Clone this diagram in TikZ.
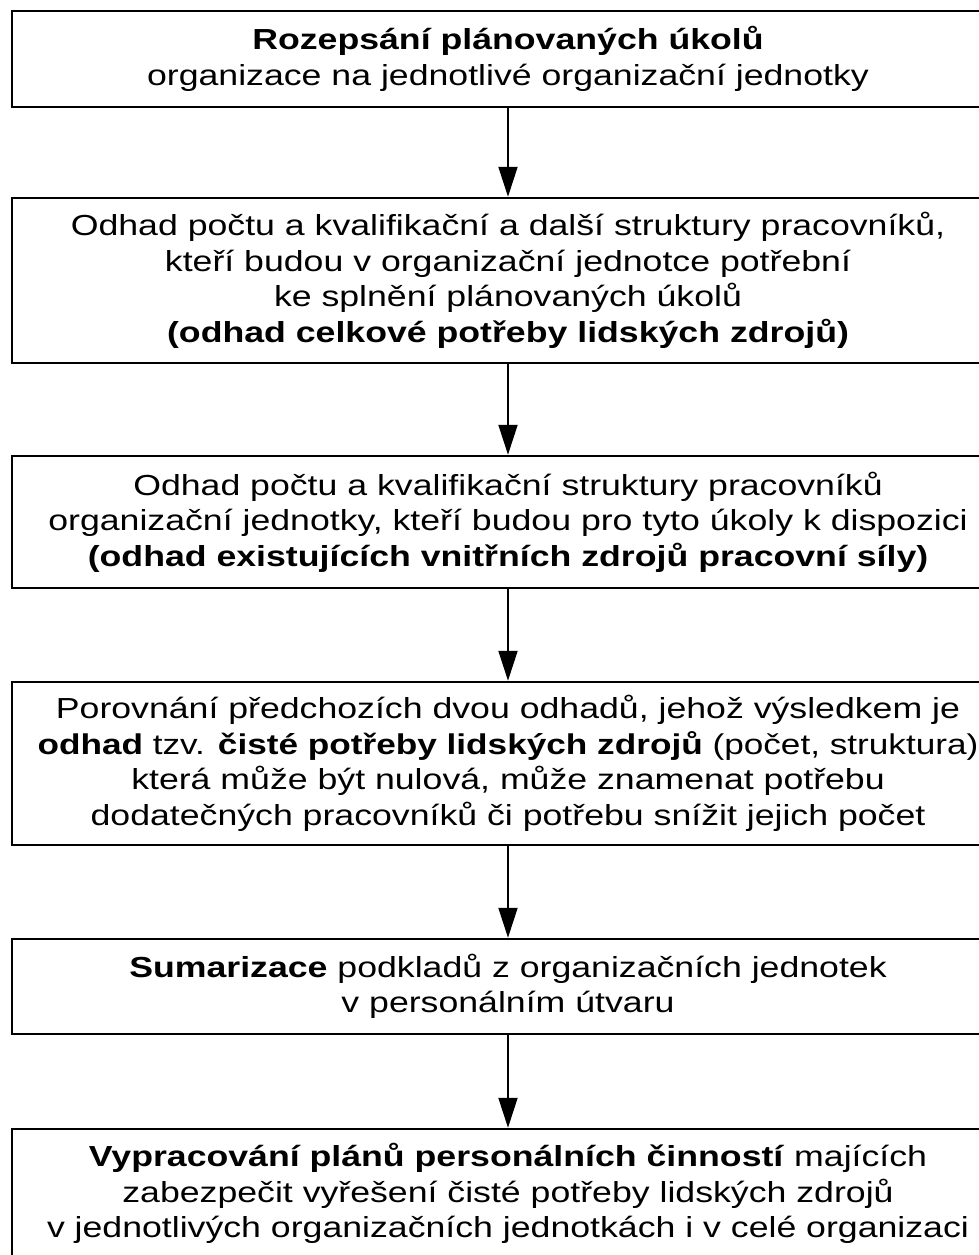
\documentclass[tikz,border=0pt]{standalone}
\usepackage{fontspec}
\setmainfont[FakeStretch=1.23]{Liberation Sans}
\usetikzlibrary{arrows.meta}
\tikzset{
  box/.style={draw=black, line width=2.5pt, rectangle, align=center, inner sep=0pt,
    minimum width=992pt, font=\fontsize{29}{35.5}\selectfont},
  flow/.style={draw=black, line width=2pt, -{Triangle[length=30pt,width=19pt]}}
}
\begin{document}
\begin{tikzpicture}[x=1pt,y=-1pt]
\useasboundingbox (0,0) rectangle (978,1255);
\node[box, minimum height=96pt] (b1) at (508,59)
  {\textbf{Rozepsání plánovaných úkolů}\\organizace na jednotlivé organizační jednotky};
\node[box, minimum height=165pt] (b2) at (508,280.5)
  {Odhad počtu a kvalifikační a další struktury pracovníků,\\kteří budou v organizační jednotce potřební\\ke splnění plánovaných úkolů\\\textbf{(odhad celkové potřeby lidských zdrojů)}};
\node[box, minimum height=132pt] (b3) at (508,522)
  {Odhad počtu a kvalifikační struktury pracovníků\\organizační jednotky, kteří budou pro tyto úkoly k dispozici\\\textbf{(odhad existujících vnitřních zdrojů pracovní síly)}};
\node[box, minimum height=163pt] (b4) at (508,763.5)
  {Porovnání předchozích dvou odhadů, jehož výsledkem je\\{\fontsize{28.6}{35.5}\selectfont\textbf{odhad} tzv. \textbf{čisté potřeby lidských zdrojů} (počet, struktura)}\hspace*{18pt}\\která může být nulová, může znamenat potřebu\\dodatečných pracovníků či potřebu snížit jejich počet};
\node[box, minimum height=95pt] (b5) at (508,986.5)
  {\textbf{Sumarizace} podkladů z organizačních jednotek\\v personálním útvaru};
\node[box, minimum height=129pt] (b6) at (508,1193.5)
  {\textbf{Vypracování plánů personálních činností} majících\\zabezpečit vyřešení čisté potřeby lidských zdrojů\\v jednotlivých organizačních jednotkách i v celé organizaci};
\draw[flow] (b1) -- (b2);
\draw[flow] (b2) -- (b3);
\draw[flow] (b3) -- (b4);
\draw[flow] (b4) -- (b5);
\draw[flow] (b5) -- (b6);
\end{tikzpicture}
\end{document}
